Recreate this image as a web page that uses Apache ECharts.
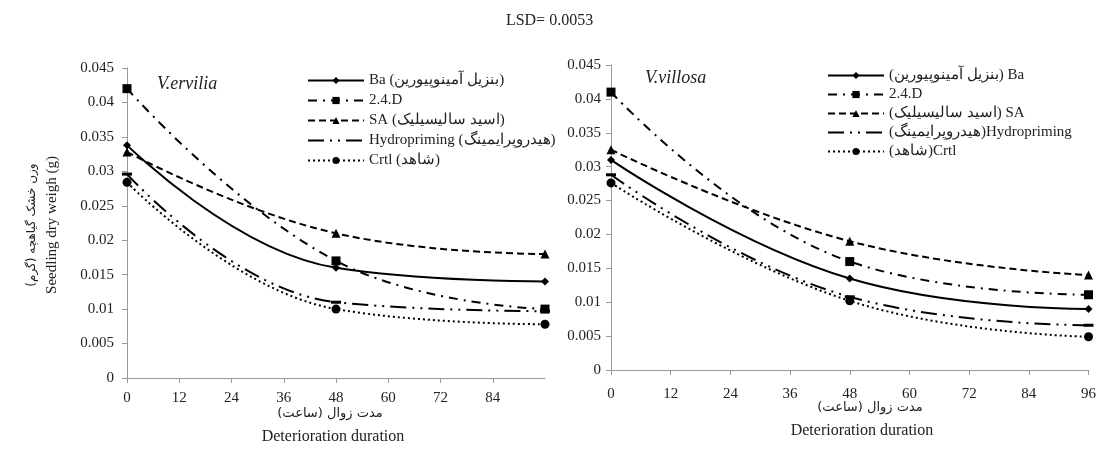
<!DOCTYPE html>
<html>
<head>
<meta charset="utf-8">
<script src="https://cdn.jsdelivr.net/npm/echarts@6/dist/echarts.min.js"></script>
<style>html,body{margin:0;padding:0;background:#fff;}#c{width:1099px;height:452px;}</style>
</head>
<body>
<div id="c"></div>
<script>
// ---- data ----
const hours = [0, 48, 96];
const xTicks = [0, 12, 24, 36, 48, 60, 72, 84, 96];
const yTicks = [0, 0.005, 0.01, 0.015, 0.02, 0.025, 0.03, 0.035, 0.04, 0.045];

// V.ervilia
const ervBa    = [0.0338, 0.0160, 0.0140];
const erv24D   = [0.0420, 0.0170, 0.0100];
const ervSA    = [0.0328, 0.0210, 0.0180];
const ervHydro = [0.0296, 0.0110, 0.0097];
const ervCrtl  = [0.0284, 0.0100, 0.0078];

// V.villosa
const vilBa    = [0.0310, 0.0135, 0.0090];
const vil24D   = [0.0410, 0.0160, 0.0111];
const vilSA    = [0.0325, 0.0190, 0.0140];
const vilHydro = [0.0288, 0.0108, 0.0066];
const vilCrtl  = [0.0276, 0.0102, 0.0049];

const leftNames  = ['Ba (بنزیل آمینوپیورین)', '2.4.D', 'SA (اسید سالیسیلیک)', 'Hydropriming (هیدروپرایمینگ)', 'Crtl (شاهد)'];
const rightNames = ['(بنزیل آمینوپیورین) Ba', '2.4.D ', '(اسید سالیسیلیک) SA', '(هیدروپرایمینگ)Hydropriming', '(شاهد)Crtl'];

// ---- styles ----
const serif = '"Liberation Serif", "DejaVu Serif", serif';
const styles = [
  {symbol: 'diamond', size: 8, type: 'solid'},
  {symbol: 'rect', size: 9, type: [9, 6, 2, 6]},
  {symbol: 'triangle', size: 9, type: [7, 4]},
  {symbol: 'rect', size: [10, 3], type: [16, 6, 2, 6, 2, 6]},
  {symbol: 'circle', size: 9, type: [2, 3]}
];

function pairs(vals) { return hours.map((h, i) => [h, vals[i]]); }

function mkSeries(names, sets, idx) {
  return sets.map((vals, i) => ({
    name: names[i],
    type: 'line',
    xAxisIndex: idx, yAxisIndex: idx,
    data: pairs(vals),
    smooth: 0.45,
    symbol: styles[i].symbol,
    symbolSize: styles[i].size,
    showAllSymbol: true,
    itemStyle: {color: '#000'},
    lineStyle: {color: '#000', width: 2, type: styles[i].type},
    emphasis: {disabled: true},
    animation: false
  }));
}

function legendData(names) {
  return names.map((n, i) => i === 3 ? {name: n, itemStyle: {opacity: 0}} : {name: n});
}

function xAxis(idx, margin, showMax) {
  return {
    type: 'value', gridIndex: idx, min: 0, max: 96, interval: 12,
    axisLine: {lineStyle: {color: '#999', width: 1}},
    axisTick: {show: true, length: 5, lineStyle: {color: '#999'}},
    splitLine: {show: false},
    axisLabel: {color: '#222', fontFamily: serif, fontSize: 15, margin: margin, showMaxLabel: showMax}
  };
}
function yAxis(idx, margin) {
  return {
    type: 'value', gridIndex: idx, min: 0, max: 0.045, interval: 0.005,
    axisLine: {show: true, lineStyle: {color: '#999', width: 1}},
    axisTick: {show: true, length: 5, lineStyle: {color: '#999'}},
    splitLine: {show: false},
    axisLabel: {color: '#222', fontFamily: serif, fontSize: 15, margin: margin,
      formatter: v => String(parseFloat(v.toFixed(3)))}
  };
}

const chart = echarts.init(document.getElementById('c'), null, {renderer: 'canvas'});
chart.setOption({
  backgroundColor: '#fff',
  animation: false,
  title: [
    {text: 'LSD= 0.0053', left: 'center', top: 8, textStyle: {fontFamily: serif, fontSize: 16, fontWeight: 'normal', color: '#222'}},
    {text: 'V.ervilia', left: 152, top: 70, textStyle: {fontFamily: serif, fontSize: 18, fontStyle: 'italic', fontWeight: 'normal', color: '#222'}},
    {text: 'V.villosa', left: 640, top: 64, textStyle: {fontFamily: serif, fontSize: 18, fontStyle: 'italic', fontWeight: 'normal', color: '#222'}}
  ],
  grid: [
    {left: 127, right: 554, top: 68, bottom: 74},
    {left: 611, right: 7, top: 65, bottom: 82}
  ],
  xAxis: [xAxis(0, 13, false), xAxis(1, 17, true)],
  yAxis: [yAxis(0, 13), yAxis(1, 10)],
  legend: [
    {data: legendData(leftNames), orient: 'vertical', left: 302, top: 68, itemWidth: 56, itemHeight: 9, itemGap: 5,
     textStyle: {fontFamily: serif, fontSize: 15, color: '#222'}, selectedMode: false},
    {data: legendData(rightNames), orient: 'vertical', left: 822, top: 63, itemWidth: 56, itemHeight: 9, itemGap: 4,
     textStyle: {fontFamily: serif, fontSize: 15, color: '#222'}, selectedMode: false}
  ],
  graphic: [
    {type: 'text', x: 52, y: 225, rotation: Math.PI / 2, style: {text: 'Seedling dry weigh (g)', fontFamily: serif, fontSize: 15, fill: '#222', align: 'center', verticalAlign: 'middle'}},
    {type: 'text', x: 32, y: 225, rotation: Math.PI / 2, style: {text: 'وزن خشک گیاهچه (گرم)', fontFamily: '"DejaVu Sans", sans-serif', fontSize: 12, fill: '#222', align: 'center', verticalAlign: 'middle'}},
    {type: 'text', x: 330, y: 414, style: {text: 'مدت زوال (ساعت)', fontFamily: '"DejaVu Sans", sans-serif', fontSize: 13, fill: '#222', align: 'center', verticalAlign: 'middle'}},
    {type: 'text', x: 333, y: 437, style: {text: 'Deterioration duration', fontFamily: serif, fontSize: 16, fill: '#222', align: 'center', verticalAlign: 'middle'}},
    {type: 'text', x: 870, y: 408, style: {text: 'مدت زوال (ساعت)', fontFamily: '"DejaVu Sans", sans-serif', fontSize: 13, fill: '#222', align: 'center', verticalAlign: 'middle'}},
    {type: 'text', x: 862, y: 431, style: {text: 'Deterioration duration', fontFamily: serif, fontSize: 16, fill: '#222', align: 'center', verticalAlign: 'middle'}}
  ],
  series: [].concat(
    mkSeries(leftNames, [ervBa, erv24D, ervSA, ervHydro, ervCrtl], 0),
    mkSeries(rightNames, [vilBa, vil24D, vilSA, vilHydro, vilCrtl], 1)
  )
});
</script>
</body>
</html>
